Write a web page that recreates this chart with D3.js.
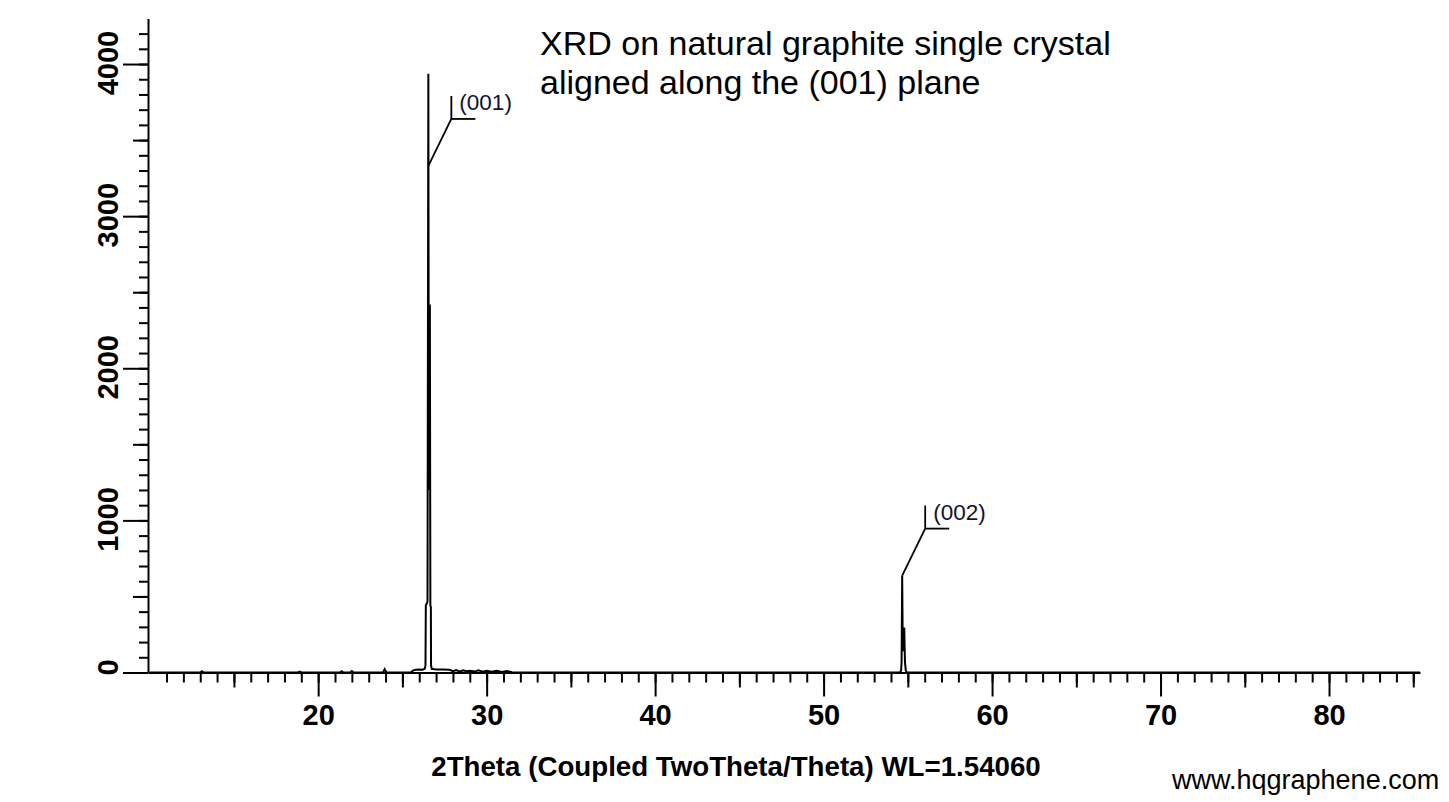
<!DOCTYPE html>
<html><head><meta charset="utf-8">
<script src="https://cdn.jsdelivr.net/npm/d3@7"></script>
<style>body{margin:0;background:#fff} svg{display:block}</style>
</head><body>
<svg id="c" width="1449" height="802"></svg>
<script>
// ---- data ----
const twoTheta = [10, 13.0, 13.1, 13.2, 18.8, 18.9, 19.0, 21.3, 21.4, 21.5, 21.9, 22.0, 22.1,
  23.85, 23.95, 24.05, 25.5, 25.65, 25.8, 26.0, 26.2, 26.32, 26.37, 26.39, 26.49, 26.54, 26.57,
  26.63, 26.66, 26.69, 26.70, 26.74, 27.0, 27.4, 27.8, 28.0, 28.2, 28.4, 28.6, 28.8, 29.0, 29.3,
  29.5, 29.8, 30.0, 30.3, 30.6, 30.9, 31.2, 31.5, 31.7, 54.52, 54.6, 54.63, 54.665, 54.70, 54.785,
  54.83, 54.88, 54.95, 85.4];
const intensity = [0, 0, 8, 0, 0, 6, 0, 0, 8, 0, 0, 10, 0,
  0, 22, 0, 2, 14, 18, 20, 18, 24, 45, 440, 465, 3936, 1200,
  2420, 440, 430, 50, 24, 20, 20, 18, 8, 16, 6, 14, 8, 12, 6,
  14, 5, 12, 5, 12, 4, 10, 2, 0, 0, 12, 70, 637, 140, 296,
  70, 12, 0, 0];

const xMajorTicks = [20, 30, 40, 50, 60, 70, 80];
const xMediumTicks = [15, 25, 35, 45, 55, 65, 75, 85];
const xMinorTicks = d3.range(11, 86);
const yMajorTicks = [0, 1000, 2000, 3000, 4000];
const yMediumTicks = [500, 1500, 2500, 3500];
const yMinorTicks = d3.range(100, 4300, 100);

const peakLabels = ["(001)", "(002)"];
const peakTwoTheta = [26.54, 54.665];
const peakLeaderIntensity = [3330, 637];

const titleLines = ["XRD on natural graphite single crystal", "aligned along the (001) plane"];
const xTitle = "2Theta (Coupled TwoTheta/Theta) WL=1.54060";
const credit = "www.hqgraphene.com";

// ---- drawing ----
const svg = d3.select("#c");
const FONT = "'Liberation Sans', Arial, sans-serif";
const x = d3.scaleLinear().domain([9.9, 85.4]).range([148, 1420]);
const y = d3.scaleLinear().domain([0, 4300]).range([672.5, 18.4]);

function styleAxis(g) {
  g.selectAll("path, line").attr("stroke", "#000").attr("stroke-width", 2);
}

// x axis
const gx = svg.append("g").attr("transform", `translate(0,${y(0)})`);
gx.append("g").call(d3.axisBottom(x).tickValues(xMinorTicks).tickSize(10).tickSizeOuter(0).tickFormat(""))
  .call(g => g.select(".domain").remove()).call(styleAxis);
gx.append("g").call(d3.axisBottom(x).tickValues(xMediumTicks).tickSize(15).tickSizeOuter(0).tickFormat(""))
  .call(g => g.select(".domain").remove()).call(styleAxis);
gx.append("g").call(d3.axisBottom(x).tickValues(xMajorTicks).tickSize(24).tickSizeOuter(0).tickPadding(8).tickFormat(d3.format("d")))
  .call(styleAxis)
  .call(g => g.selectAll("text").attr("font-family", FONT).attr("font-size", 29).attr("font-weight", "bold").attr("fill", "#000"));

// y axis
const gy = svg.append("g").attr("transform", `translate(${x(9.9)},0)`);
gy.append("g").call(d3.axisLeft(y).tickValues(yMinorTicks).tickSize(9).tickSizeOuter(0).tickFormat(""))
  .call(g => g.select(".domain").remove()).call(styleAxis);
gy.append("g").call(d3.axisLeft(y).tickValues(yMediumTicks).tickSize(15).tickSizeOuter(0).tickFormat(""))
  .call(g => g.select(".domain").remove()).call(styleAxis);
gy.append("g").call(d3.axisLeft(y).tickValues(yMajorTicks).tickSize(25).tickSizeOuter(0).tickFormat(""))
  .call(styleAxis);
svg.append("g").selectAll("text").data(yMajorTicks).join("text")
  .attr("transform", d => `translate(118,${y(d) - (d === 0 ? 5 : 1)}) rotate(-90)`)
  .attr("text-anchor", "middle")
  .attr("font-family", FONT).attr("font-size", 29).attr("font-weight", "bold")
  .text(d => d);

// trace
const pts = twoTheta.map((t, i) => [t, intensity[i]]);
svg.append("path").datum(pts)
  .attr("fill", "none").attr("stroke", "#000").attr("stroke-width", 2).attr("stroke-linejoin", "miter")
  .attr("d", d3.line().x(d => x(d[0])).y(d => y(d[1])));

// peak labels
peakLabels.forEach((lab, i) => {
  const px = x(peakTwoTheta[i]), py = y(peakLeaderIntensity[i]);
  const ex = px + 23, ey = py - 47;
  const g = svg.append("g").attr("stroke", "#000").attr("stroke-width", 1.8);
  g.append("line").attr("x1", px).attr("y1", py).attr("x2", ex).attr("y2", ey);
  g.append("line").attr("x1", ex).attr("y1", ey - 23).attr("x2", ex).attr("y2", ey);
  g.append("line").attr("x1", ex).attr("y1", ey).attr("x2", ex + 24).attr("y2", ey);
  svg.append("text").attr("x", ex + 8).attr("y", ey - 9)
    .attr("font-family", FONT).attr("font-size", 22.5).attr("fill", "#111133").text(lab);
});

// title
svg.append("g").selectAll("text").data(titleLines).join("text")
  .attr("x", 540).attr("y", (d, i) => 55 + i * 39)
  .attr("font-family", FONT).attr("font-size", 34).attr("fill", "#000").text(d => d);

// x title
svg.append("text").attr("x", 736).attr("y", 776).attr("text-anchor", "middle")
  .attr("font-family", FONT).attr("font-size", 27.7).attr("font-weight", "bold").text(xTitle);

// credit
svg.append("text").attr("x", 1172).attr("y", 789)
  .attr("font-family", FONT).attr("font-size", 27).text(credit);
</script>
</body></html>
